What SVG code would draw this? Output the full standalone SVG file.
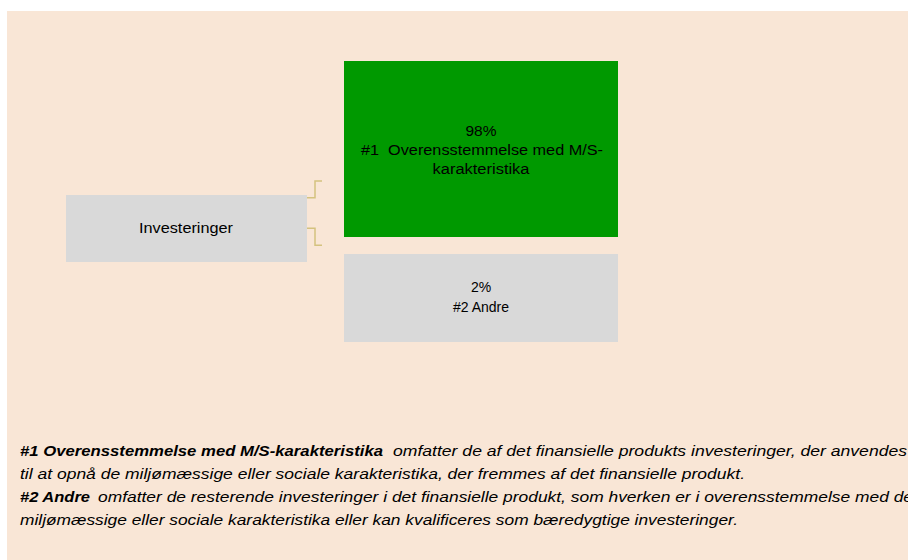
<svg xmlns="http://www.w3.org/2000/svg" width="908" height="560" viewBox="0 0 908 560">
<style>
  .t { font-family: "Liberation Sans", Arial, sans-serif; font-size: 14px; fill: #000; }
  .c { text-anchor: middle; }
  .leg { font-family: "Liberation Sans", Arial, sans-serif; font-size: 14px; font-style: italic; fill: #000; }
  .b { font-weight: bold; }
  .conn { fill: none; stroke: #D4C27F; stroke-width: 1.5; }
</style>
<rect x="0" y="0" width="908" height="560" fill="#ffffff"/>
<rect id="background" x="7" y="11" width="901" height="549" fill="#F9E6D6"/>
<g id="connectors">
  <path class="conn" d="M307 197.7 H315 V181 H322"/>
  <path class="conn" d="M307 228.3 H315 V245.3 H322"/>
</g>
<g id="node-investeringer">
  <rect x="66" y="195" width="241" height="67" fill="#D9D9D9"/>
  <text class="t c" x="186" y="233" textLength="94" lengthAdjust="spacingAndGlyphs">Investeringer</text>
</g>
<g id="node-1">
  <rect x="344" y="61" width="274" height="176" fill="#009900"/>
  <text class="t c" x="481" y="136" textLength="31" lengthAdjust="spacingAndGlyphs">98%</text>
  <text class="t c" x="482" y="155" textLength="242" lengthAdjust="spacingAndGlyphs" xml:space="preserve">#1  Overensstemmelse med M/S-</text>
  <text class="t c" x="481" y="174" textLength="97" lengthAdjust="spacingAndGlyphs">karakteristika</text>
</g>
<g id="node-2">
  <rect x="344" y="254" width="274" height="88" fill="#D9D9D9"/>
  <text class="t c" x="481" y="292">2%</text>
  <text class="t c" x="481" y="312">#2 Andre</text>
</g>
<g id="legend">
  <text class="leg b" x="20" y="456" textLength="363" lengthAdjust="spacingAndGlyphs">#1 Overensstemmelse med M/S-karakteristika</text>
  <text class="leg" x="393" y="456" textLength="514" lengthAdjust="spacingAndGlyphs">omfatter de af det finansielle produkts investeringer, der anvendes</text>
  <text class="leg" x="20" y="479" textLength="725" lengthAdjust="spacingAndGlyphs">til at opnå de miljømæssige eller sociale karakteristika, der fremmes af det finansielle produkt.</text>
  <text class="leg b" x="20" y="502" textLength="70" lengthAdjust="spacingAndGlyphs">#2 Andre</text>
  <text class="leg" x="98" y="502" textLength="815" lengthAdjust="spacingAndGlyphs">omfatter de resterende investeringer i det finansielle produkt, som hverken er i overensstemmelse med de</text>
  <text class="leg" x="20" y="525" textLength="718" lengthAdjust="spacingAndGlyphs">miljømæssige eller sociale karakteristika eller kan kvalificeres som bæredygtige investeringer.</text>
</g>
</svg>
